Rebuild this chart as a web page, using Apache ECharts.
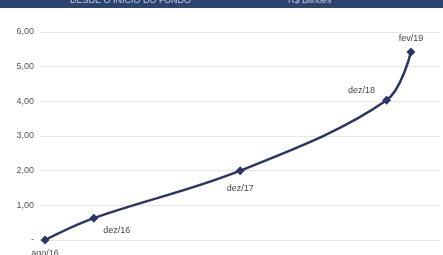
<!DOCTYPE html>
<html><head><meta charset="utf-8">
<script src="https://cdn.jsdelivr.net/npm/echarts@6/dist/echarts.min.js"></script>
<style>html,body{margin:0;padding:0;background:#fff}#c{width:443px;height:255px}</style>
</head><body><div id="c"></div>
<script>
const categories = ["ago/16", "dez/16", "dez/17", "dez/18", "fev/19"];
const monthIndex = [0, 4, 16, 28, 30];
const values = [0.0, 0.63, 2.0, 4.03, 5.42];
const labelPos = ["bottom", "right", "bottom", "left", "top"];
const yTicks = ["-", "1,00", "2,00", "3,00", "4,00", "5,00", "6,00"];

const chart = echarts.init(document.getElementById('c'), null, {renderer: 'canvas'});
const data = values.map((v, i) => ({
  value: [monthIndex[i], v],
  name: categories[i],
  label: {
    position: labelPos[i],
    offset: i === 1 ? [0, 12] : (i === 3 ? [-2, -10] : (i === 2 ? [0, 4] : [0, 0]))
  }
}));
chart.setOption({
  animation: false,
  grid: {left: 40, right: 3, top: 32, bottom: 15},
  graphic: [
    {type: 'rect', shape: {x: 0, y: 0, width: 443, height: 8}, style: {fill: '#2b4470'}},
    {type: 'text', left: 70, top: -4, style: {text: 'DESDE O INÍCIO DO FUNDO', fill: '#c8d0dc', font: '9px Liberation Sans'}},
    {type: 'text', left: 288, top: -4, style: {text: 'R$ Bilhões', fill: '#c8d0dc', font: '9px Liberation Sans'}}
  ],
  xAxis: {
    type: 'value', min: -0.41, max: 32.38,
    axisLine: {show: false}, axisTick: {show: false}, axisLabel: {show: false}, splitLine: {show: false}
  },
  yAxis: {
    type: 'value', min: 0, max: 6, interval: 1,
    axisLine: {show: false}, axisTick: {show: false},
    axisLabel: {formatter: v => yTicks[Math.round(v)], color: '#555', fontSize: 9, fontFamily: 'Liberation Sans', margin: 6},
    splitLine: {lineStyle: {color: '#e6e6e6', width: 1}}
  },
  series: [{
    type: 'line',
    data: data,
    smooth: 0.35,
    symbol: 'diamond',
    symbolSize: 9,
    lineStyle: {color: '#2d3566', width: 2.5},
    itemStyle: {color: '#2d3566'},
    label: {show: true, formatter: p => p.name, color: '#444', fontSize: 9, fontFamily: 'Liberation Sans'}
  }]
});
</script></body></html>
